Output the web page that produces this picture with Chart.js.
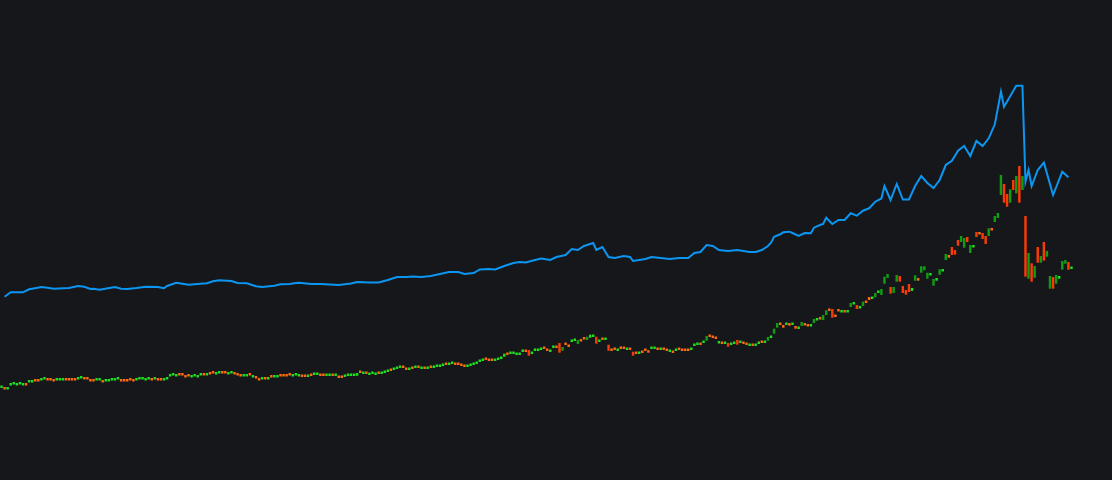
<!DOCTYPE html>
<html>
<head>
<meta charset="utf-8">
<script src="https://cdn.jsdelivr.net/npm/chart.js@4"></script>
<style>
  html, body { margin: 0; padding: 0; background: #16171b; }
  #wrap { width: 1112px; height: 480px; }
</style>
</head>
<body>
<div id="wrap"><canvas id="priceChart" width="1112" height="480"></canvas></div>
<script>
// ===== DATA =====
// weekly candles: open / close (one entry per period)
const opens = [
  92, 91.5, 90.5, 94.5, 95.5, 94.5, 95.5, 94.5, 95.5, 97.5,
  97.5, 99.5, 99.5, 99.5, 100.5, 100.5, 100.5, 99.5, 99.5, 99.5,
  99.5, 100.5, 100.5, 100.5, 100.5, 100.5, 101.5, 101.5, 101.5, 99.5,
  99.5, 99.5, 99.5, 98.5, 98.5, 98.5, 99.5, 99.5, 100.5, 99.5,
  99.5, 99.5, 100.5, 99.5, 99.5, 100.5, 100.5, 99.5, 100.5, 100.5,
  100.5, 100.5, 100.5, 99.5, 100.5, 103.5, 104.5, 103.5, 105.5, 105.5,
  103.5, 104.5, 102.5, 103.5, 102.5, 104.5, 105.5, 104.5, 106.5, 107.5,
  105.5, 106.5, 107.5, 107.5, 105.5, 106.5, 106.5, 105.5, 104.5, 103.5,
  103.5, 105.5, 102.5, 102.5, 100.5, 100.5, 101.5, 100.5, 103.5, 102.5,
  102.5, 104.5, 104.5, 104.5, 105.5, 103.5, 104.5, 103.5, 104, 104,
  103, 105, 105, 105, 105, 105, 104, 104, 105, 104,
  103, 103, 103, 104, 104, 104, 104.3, 108, 106, 107,
  105, 106, 105, 107, 106, 107, 108, 110, 110, 111,
  112, 113, 111, 110, 112, 112, 113, 111, 112, 111,
  113, 112, 113, 113, 114, 116, 115, 116, 116, 116,
  115, 114, 113, 114, 115, 116, 118, 119, 121, 120,
  120, 119, 120, 121, 123.3, 126, 126, 126, 125, 125,
  128, 129, 130, 126, 129, 129, 130, 132, 130, 128,
  132, 133, 137, 129.3, 136, 134, 138, 139, 136, 139.5,
  141.5, 140, 142.3, 143, 143.3, 138, 141, 140, 135.3, 130,
  131, 129, 132, 132, 130, 131, 128.3, 127, 126, 128,
  130, 129.3, 131, 131, 131, 130, 131, 130, 128, 128,
  129, 131, 130, 130, 130, 130, 134, 135, 136, 137,
  139.3, 144, 143, 142, 136.5, 137, 136, 137, 135, 136,
  140, 137, 137, 136, 134, 135, 134, 136, 138, 137,
  139.3, 142, 146.3, 152.3, 156, 155, 155, 157, 155, 154,
  151, 154, 155.5, 154.5, 153.5, 157, 159.5, 161.5, 160, 165,
  170, 171, 164, 169.5, 167.5, 168.5, 167.5, 173, 175.5, 175,
  171.5, 174, 178, 183, 181, 182.7, 187, 185, 196.3, 202,
  193, 187, 198.3, 204, 194, 190, 196, 189, 199.3, 202,
  207.3, 209.7, 201.3, 204.5, 194.3, 199.3, 205.3, 208.5, 220, 225,
  233, 230, 240, 238, 232.3, 243, 227, 232.5, 248, 246.5,
  247, 244, 244, 250.5, 258, 262, 285, 296, 286, 277.3,
  300, 286.7, 314, 290, 264, 201.3, 216.7, 202.3, 233, 217.3,
  238, 223.3, 191.3, 203, 196.3, 201.3, 210.3, 216.3, 218, 211
];
const closes = [
  93, 90.5, 91.5, 95.5, 96.5, 95.5, 96.5, 95.5, 94.5, 98.5,
  98.5, 98.5, 98.5, 100.5, 101.5, 99.5, 99.5, 98.5, 100.5, 100.5,
  100.5, 99.5, 99.5, 99.5, 99.5, 101.5, 102.5, 100.5, 100.5, 98.5,
  98.5, 100.5, 100.5, 97.5, 99.5, 99.5, 100.5, 100.5, 101.5, 98.5,
  98.5, 98.5, 99.5, 98.5, 100.5, 101.5, 101.5, 100.5, 101.5, 99.5,
  101.5, 99.5, 99.5, 100.5, 101.5, 104.5, 105.5, 104.5, 104.5, 104.5,
  102.5, 103.5, 103.5, 104.5, 103.5, 105.5, 104.5, 105.5, 105.5, 106.5,
  106.5, 107.5, 106.5, 106.5, 106.5, 107.5, 105.5, 104.5, 103.5, 104.5,
  104.5, 104.5, 103.5, 101.5, 99.5, 101.5, 100.5, 101.5, 102.5, 103.5,
  103.5, 103.5, 103.5, 103.5, 104.5, 104.5, 105.5, 104.5, 103, 103,
  104, 104, 106, 106, 104, 104, 105, 105, 104, 105,
  102, 102, 104, 105, 105, 105, 107, 107, 107, 106,
  106, 107, 106, 106, 107, 108, 109, 109, 111, 112,
  113, 112, 110, 111, 111, 113, 112, 112, 111, 112,
  112, 113, 114, 114, 115, 115, 116, 117, 115, 115,
  114, 113, 114, 115, 116, 117, 119, 120, 120, 119,
  119, 120, 121, 122, 126.3, 125, 127, 127, 126, 126,
  129, 128, 124.3, 127, 130, 130, 131, 131, 129, 129,
  133, 132, 127.3, 133, 135, 133, 139, 140, 140, 138.5,
  140.5, 143.3, 145.3, 144, 136.3, 139, 140, 141, 129.3, 129,
  130, 130, 131, 131, 131, 130, 124.3, 126, 127, 127,
  129, 127.3, 132, 132, 130, 131, 130, 129, 129, 127,
  130, 130, 129, 129, 129, 131, 135, 136, 135, 138,
  144, 143, 142, 141, 137.5, 136, 137, 133.3, 136, 137,
  135.3, 138, 136, 135, 135, 134, 135, 137, 137, 138,
  143, 143, 151.3, 157, 155, 152.3, 156, 154.3, 156, 151.3,
  152, 158, 154.5, 153.5, 154.5, 161, 160.5, 160.5, 165, 169.7,
  169, 162.3, 163, 168.5, 168.5, 167.5, 168.5, 177, 176.5, 171,
  172.5, 178.3, 177, 180, 182, 187, 188, 191, 203.3, 206,
  186.3, 193, 205, 198.3, 187, 185.3, 188, 192, 204.7, 199.3,
  213.7, 213.7, 207.3, 205.5, 201, 202, 210.7, 209.5, 226, 222.3,
  225, 225.3, 234.3, 244, 242, 238, 235, 233.5, 243, 245.5,
  241, 236, 251.7, 249.5, 264, 267, 305, 277.3, 273.3, 290.7,
  290, 304, 277.3, 304, 203.3, 227, 198.3, 214, 217.3, 224,
  219.3, 229, 204, 191.3, 205, 204, 219, 220, 210.3, 213
];
const periods = opens.map((_, i) => i);

// second series (blue line), read at its turning points
const lineIdx = [
  1, 3, 7, 9, 10, 13, 15, 17, 22, 25, 27, 29, 30, 32, 37, 39, 41, 44, 47, 51,
  53, 54, 57, 59, 61, 65, 67, 69, 71, 75, 77, 80, 83, 85, 89, 91, 94, 96, 97, 101,
  104, 107, 110, 114, 116, 120, 123, 126, 129, 132, 134, 137, 140, 143, 146, 149, 151, 154, 156, 159,
  161, 164, 167, 169, 171, 174, 176, 179, 181, 184, 186, 188, 190, 193, 194, 196, 198, 200, 203, 205,
  206, 210, 212, 215, 218, 221, 224, 226, 228, 230, 232, 234, 237, 240, 244, 246, 248, 250, 251, 252,
  254, 255, 257, 258, 260, 262, 264, 265, 267, 268, 269, 271, 273, 275, 277, 279, 281, 283, 285, 287,
  288, 290, 292, 294, 296, 298, 300, 302, 304, 306, 308, 310, 312, 314, 316, 318, 320, 322, 324, 326,
  327, 331, 333, 334, 335, 336, 338, 340, 343, 346, 348
];
const lineVal = [
  183.3, 187.7, 187.7, 190.7, 191.3, 193, 192.3, 191.3, 192, 194, 193.3, 191, 191.3, 190.3, 193, 191.3, 191, 192, 193.3, 193,
  191.7, 194, 197.3, 196.3, 195.3, 196.3, 196.7, 198.7, 199.7, 199, 197, 196.7, 193.7, 193, 194.3, 195.7, 196, 197, 197.3, 196,
  196, 195.5, 195, 196.5, 198, 197.5, 197.5, 200, 203, 203, 203.5, 203, 204, 206, 208, 208, 206, 207, 210.5, 211,
  210.5, 214, 217, 218, 217.5, 220, 221.5, 220, 223, 225, 231, 230, 234, 237, 230, 233, 223, 222, 224, 223,
  219, 221, 223, 222, 221, 222, 222, 227, 228, 235, 234, 230, 229, 230, 228, 228, 230, 234, 237.3, 243.3,
  245.7, 247.7, 248.3, 247, 244, 247, 246.7, 252.3, 255, 256, 262.3, 256, 260, 260, 266.7, 264.3, 269.3, 271.7, 278.3, 281.5,
  294, 280, 296, 280.5, 280.5, 294, 304, 297, 292, 300, 315, 319.3, 329.3, 334, 324, 339, 334, 341.7, 355.7, 388.3,
  373.3, 394.3, 394.3, 298.3, 310, 294, 310, 317.3, 285, 308.3, 302.7
];

// ===== CHART =====
const GREEN = "#1fe01f";
const GREEN_DARK = "#129c12";
const ORANGE = "#ff6a10";
const RED = "#f83c06";

const candleData = opens.map((o, i) => [o, closes[i]]);
const candleColors = opens.map((o, i) => {
  const c = closes[i];
  const big = Math.abs(c - o) > 3;
  if (c >= o) return big ? GREEN_DARK : GREEN;
  return big ? RED : ORANGE;
});

const lineData = periods.map(() => null);
lineIdx.forEach((idx, k) => { lineData[idx] = lineVal[k]; });

const ctx = document.getElementById("priceChart");
new Chart(ctx, {
  data: {
    labels: periods,
    datasets: [
      {
        type: "line",
        label: "Index",
        data: lineData,
        borderColor: "#0b96f2",
        borderWidth: 2,
        pointRadius: 0,
        tension: 0,
        spanGaps: true,
        order: 0
      },
      {
        type: "bar",
        label: "Price",
        data: candleData,
        backgroundColor: candleColors,
        borderWidth: 0,
        barPercentage: 0.8,
        categoryPercentage: 1,
        minBarLength: 2.5,
        order: 1
      }
    ]
  },
  options: {
    responsive: false,
    animation: false,
    layout: { padding: { left: 0, right: 39, top: 0, bottom: 0 } },
    plugins: { legend: { display: false }, tooltip: { enabled: false } },
    scales: {
      x: { display: false, offset: true, grid: { display: false } },
      y: { display: false, min: 0, max: 480, grid: { display: false } }
    }
  }
});
</script>
</body>
</html>
